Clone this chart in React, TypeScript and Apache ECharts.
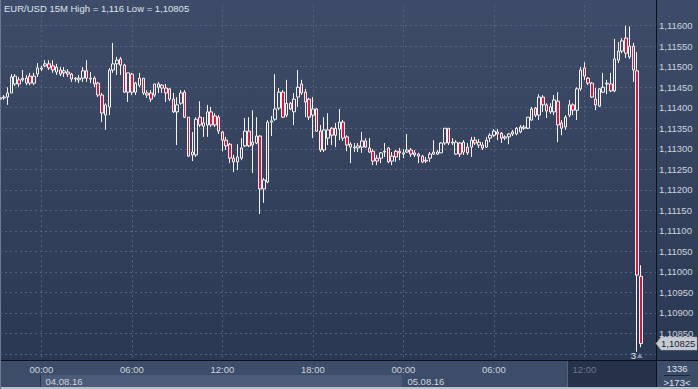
import React, { useEffect, useRef } from "react";
import * as echarts from "echarts";

// ---- data (EUR/USD, 15-minute candles) ----
const dayLabels = ["03.08.16", "04.08.16", "05.08.16"];
const firstSlot = { day: 0, minutes: 21 * 60 + 15 };
const slotCount = 175;
const categories: string[] = (() => {
  const out: string[] = [];
  let d = firstSlot.day;
  let m = firstSlot.minutes;
  for (let i = 0; i < slotCount; i++) {
    const hh = String(Math.floor(m / 60)).padStart(2, "0");
    const mm = String(m % 60).padStart(2, "0");
    out.push(dayLabels[d] + " " + hh + ":" + mm);
    m += 15;
    if (m >= 1440) { m -= 1440; d += 1; }
  }
  return out;
})();

const timeTickLabels = ["04.08.16 00:00", "04.08.16 06:00", "04.08.16 12:00", "04.08.16 18:00", "05.08.16 00:00", "05.08.16 06:00", "05.08.16 12:00"];
const dimTickLabel = "05.08.16 12:00";
const dateBandStarts = ["04.08.16 00:00", "05.08.16 00:00"];

const opens = [1.11421,1.11424,1.11426,1.11436,1.11458,1.11468,1.11468,1.11460,1.11477,1.11460,1.11482,1.11494,1.11502,1.11507,1.11502,1.11487,1.11492,1.11485,1.11487,1.11482,1.11470,1.11468,1.11472,1.11490,1.11470,1.11472,1.11460,1.11431,1.11382,1.11402,1.11492,1.11507,1.11519,1.11504,1.11438,1.11482,1.11438,1.11455,1.11472,1.11436,1.11436,1.11431,1.11450,1.11455,1.11448,1.11446,1.11421,1.11390,1.11411,1.11438,1.11377,1.11285,1.11285,1.11377,1.11355,1.11358,1.11390,1.11380,1.11377,1.11341,1.11321,1.11311,1.11277,1.11268,1.11277,1.11307,1.11343,1.11309,1.11314,1.11331,1.11202,1.11219,1.11365,1.11372,1.11399,1.11438,1.11382,1.11411,1.11390,1.11426,1.11458,1.11438,1.11421,1.11382,1.11397,1.11343,1.11297,1.11326,1.11350,1.11333,1.11348,1.11365,1.11329,1.11304,1.11302,1.11302,1.11304,1.11319,1.11302,1.11294,1.11277,1.11277,1.11292,1.11302,1.11270,1.11294,1.11294,1.11287,1.11292,1.11297,1.11290,1.11287,1.11282,1.11270,1.11277,1.11287,1.11287,1.11290,1.11314,1.11350,1.11314,1.11287,1.11314,1.11292,1.11304,1.11304,1.11321,1.11309,1.11309,1.11304,1.11326,1.11333,1.11341,1.11338,1.11326,1.11329,1.11336,1.11336,1.11341,1.11350,1.11350,1.11370,1.11399,1.11382,1.11426,1.11407,1.11390,1.11390,1.11416,1.11363,1.11353,1.11382,1.11407,1.11394,1.11446,1.11497,1.11472,1.11460,1.11421,1.11404,1.11438,1.11458,1.11458,1.11441,1.11516,1.11538,1.11570,1.11524,1.11550,1.11490,1.10989];
const closes = [1.11424,1.11426,1.11436,1.11475,1.11477,1.11458,1.11472,1.11472,1.11460,1.11477,1.11497,1.11497,1.11507,1.11497,1.11492,1.11499,1.11482,1.11490,1.11482,1.11470,1.11472,1.11472,1.11490,1.11472,1.11472,1.11458,1.11431,1.11387,1.11407,1.11492,1.11507,1.11516,1.11504,1.11438,1.11485,1.11438,1.11460,1.11472,1.11436,1.11431,1.11421,1.11458,1.11458,1.11448,1.11436,1.11421,1.11390,1.11407,1.11436,1.11377,1.11282,1.11292,1.11372,1.11358,1.11363,1.11390,1.11358,1.11358,1.11343,1.11321,1.11307,1.11277,1.11268,1.11280,1.11302,1.11343,1.11307,1.11316,1.11331,1.11202,1.11224,1.11365,1.11368,1.11397,1.11438,1.11377,1.11411,1.11397,1.11421,1.11450,1.11436,1.11414,1.11377,1.11397,1.11343,1.11297,1.11346,1.11346,1.11333,1.11350,1.11365,1.11326,1.11309,1.11311,1.11304,1.11307,1.11319,1.11304,1.11292,1.11270,1.11270,1.11290,1.11294,1.11268,1.11282,1.11280,1.11290,1.11290,1.11297,1.11287,1.11285,1.11282,1.11268,1.11272,1.11287,1.11292,1.11292,1.11314,1.11350,1.11314,1.11316,1.11316,1.11287,1.11316,1.11290,1.11321,1.11314,1.11316,1.11302,1.11321,1.11333,1.11343,1.11336,1.11326,1.11329,1.11336,1.11341,1.11350,1.11353,1.11353,1.11377,1.11397,1.11382,1.11426,1.11407,1.11392,1.11402,1.11419,1.11358,1.11350,1.11377,1.11407,1.11394,1.11446,1.11492,1.11477,1.11460,1.11426,1.11407,1.11446,1.11450,1.11460,1.11441,1.11519,1.11538,1.11563,1.11533,1.11550,1.11492,1.10992,1.10825];
const highs = [1.11426,1.11431,1.11450,1.11482,1.11482,1.11475,1.11492,1.11480,1.11485,1.11485,1.11509,1.11502,1.11516,1.11516,1.11516,1.11507,1.11499,1.11499,1.11494,1.11485,1.11475,1.11480,1.11499,1.11516,1.11487,1.11477,1.11463,1.11436,1.11411,1.11497,1.11558,1.11524,1.11524,1.11507,1.11485,1.11485,1.11463,1.11485,1.11472,1.11443,1.11443,1.11458,1.11463,1.11458,1.11458,1.11448,1.11436,1.11426,1.11443,1.11443,1.11377,1.11341,1.11377,1.11416,1.11377,1.11407,1.11402,1.11387,1.11382,1.11343,1.11329,1.11314,1.11285,1.11311,1.11326,1.11375,1.11377,1.11394,1.11377,1.11333,1.11229,1.11370,1.11380,1.11482,1.11448,1.11443,1.11468,1.11414,1.11436,1.11492,1.11468,1.11446,1.11424,1.11426,1.11399,1.11358,1.11377,1.11387,1.11353,1.11363,1.11397,1.11370,1.11333,1.11316,1.11314,1.11314,1.11341,1.11326,1.11326,1.11299,1.11285,1.11292,1.11314,1.11304,1.11292,1.11297,1.11302,1.11299,1.11336,1.11302,1.11297,1.11290,1.11285,1.11280,1.11292,1.11321,1.11297,1.11316,1.11350,1.11350,1.11326,1.11321,1.11316,1.11321,1.11314,1.11329,1.11329,1.11324,1.11316,1.11329,1.11338,1.11348,1.11348,1.11341,1.11333,1.11338,1.11346,1.11353,1.11358,1.11358,1.11377,1.11402,1.11402,1.11433,1.11431,1.11411,1.11411,1.11431,1.11438,1.11370,1.11382,1.11419,1.11411,1.11450,1.11499,1.11511,1.11475,1.11463,1.11448,1.11448,1.11485,1.11468,1.11485,1.11568,1.11560,1.11570,1.11600,1.11598,1.11558,1.11536,1.11016];
const lows = [1.11419,1.11419,1.11407,1.11436,1.11453,1.11450,1.11463,1.11455,1.11455,1.11455,1.11475,1.11490,1.11499,1.11492,1.11485,1.11480,1.11477,1.11475,1.11475,1.11463,1.11463,1.11460,1.11463,1.11463,1.11460,1.11450,1.11426,1.11365,1.11346,1.11382,1.11485,1.11480,1.11480,1.11436,1.11414,1.11431,1.11431,1.11450,1.11431,1.11424,1.11414,1.11426,1.11436,1.11436,1.11414,1.11416,1.11387,1.11309,1.11407,1.11375,1.11280,1.11270,1.11280,1.11353,1.11329,1.11329,1.11353,1.11353,1.11336,1.11294,1.11297,1.11265,1.11243,1.11248,1.11272,1.11304,1.11304,1.11241,1.11311,1.11141,1.11168,1.11216,1.11331,1.11368,1.11394,1.11375,1.11377,1.11394,1.11358,1.11402,1.11431,1.11377,1.11370,1.11326,1.11341,1.11292,1.11292,1.11309,1.11309,1.11304,1.11321,1.11319,1.11294,1.11265,1.11292,1.11292,1.11290,1.11302,1.11290,1.11260,1.11260,1.11265,1.11280,1.11265,1.11260,1.11268,1.11272,1.11277,1.11290,1.11280,1.11280,1.11265,1.11265,1.11265,1.11268,1.11285,1.11285,1.11290,1.11309,1.11309,1.11309,1.11285,1.11280,1.11285,1.11285,1.11280,1.11309,1.11302,1.11297,1.11302,1.11316,1.11329,1.11321,1.11314,1.11321,1.11311,1.11331,1.11333,1.11338,1.11346,1.11348,1.11368,1.11377,1.11370,1.11390,1.11375,1.11385,1.11382,1.11316,1.11333,1.11346,1.11377,1.11382,1.11370,1.11441,1.11468,1.11455,1.11424,1.11394,1.11402,1.11436,1.11433,1.11438,1.11438,1.11509,1.11533,1.11521,1.11519,1.11463,1.10805,1.10816];

const titleText = "EUR/USD 15M High = 1,116 Low = 1,10805";
const barCountText = "1336";
const visibleBarsText = ">173<";
const markerText = "3";

const priceMin = 1.10785;
const priceMax = 1.1165;
const priceStep = 0.0005;
const labelFloor = 1.1084;
const labelCeil = 1.1162;

const FONT = '"Liberation Sans", Arial, sans-serif';
const fmtPrice = (v: number) => v.toFixed(5).replace(".", ",");

export default function App() {
  const ref = useRef<HTMLDivElement>(null);
  useEffect(() => {
    if (!ref.current) return;
    const chart = echarts.init(ref.current, null, { renderer: "svg", width: 698, height: 389 });
    const data = opens.map((o, i) => [o, closes[i], lows[i], highs[i]]);
    chart.setOption({
      animation: false,
      backgroundColor: "transparent",
      grid: { left: 0, top: 5.2, right: 42, bottom: 29, containLabel: false },
      xAxis: {
        type: "category",
        data: categories,
        boundaryGap: false,
        axisLine: { show: false },
        axisTick: { show: false },
        axisLabel: {
          interval: (_i: number, v: string) => timeTickLabels.includes(v),
          formatter: (v: string) => v.split(" ")[1],
          color: (v: string) => (v === dimTickLabel ? "#6b778d" : "#cdd4de"),
          fontSize: 9.5,
          fontFamily: FONT,
          margin: 4,
        },
        splitLine: {
          show: true,
          interval: (_i: number, v: string) => timeTickLabels.includes(v),
          lineStyle: { color: "#56647f", type: [2, 3], width: 1 },
        },
      },
      yAxis: {
        type: "value",
        position: "right",
        min: priceMin,
        max: priceMax,
        splitNumber: 18,
        minInterval: priceStep,
        maxInterval: priceStep,
        axisLine: { show: false },
        axisTick: { show: false },
        axisLabel: {
          showMinLabel: false,
          showMaxLabel: false,
          formatter: (v: number) => (v < labelFloor || v > labelCeil ? "" : fmtPrice(v)),
          color: "#cdd4de",
          fontSize: 9.5,
          fontFamily: FONT,
          margin: 3,
        },
        splitLine: {
          show: true,
          showMinLine: false,
          showMaxLine: false,
          lineStyle: { color: "#56647f", type: [2, 3], width: 1 },
        },
      },
      series: [
        {
          type: "candlestick",
          data,
          barWidth: 3,
          clip: false,
          itemStyle: {
            color: "rgba(0,0,0,0)",
            color0: "#e3123d",
            borderColor: "#f6f4f2",
            borderColor0: "#f6f4f2",
            borderWidth: 1,
          },
        },
      ],
    });

    const xOf = (cat: string) => chart.convertToPixel({ xAxisIndex: 0 }, cat) as number;
    const lastClose = closes[closes.length - 1];
    const yLast = chart.convertToPixel({ yAxisIndex: 0 }, lastClose) as number;
    const xLastBar = xOf(categories[closes.length - 2]);

    chart.setOption({
      graphic: [
        { type: "text", x: 4, y: 8, style: { text: titleText, fill: "#dfe4ec", font: "9.5px " + FONT, verticalAlign: "middle" } },
        ...dateBandStarts.map((c) => ({
          type: "text",
          x: xOf(c) + 4,
          y: 381,
          style: { text: c.split(" ")[0], fill: "#cdd4de", font: "9.5px " + FONT, verticalAlign: "middle" },
        })),
        { type: "text", x: 677, y: 368, style: { text: barCountText, fill: "#dfe4ec", font: "9.5px " + FONT, align: "center", verticalAlign: "middle" } },
        { type: "line", shape: { x1: 664, y1: 375.5, x2: 690, y2: 375.5 }, style: { stroke: "#1d2433", lineWidth: 1 } },
        { type: "text", x: 677, y: 382, style: { text: visibleBarsText, fill: "#dfe4ec", font: "9.5px " + FONT, align: "center", verticalAlign: "middle" } },
        {
          type: "polygon",
          shape: { points: [[656, yLast], [661, yLast - 6.5], [697, yLast - 6.5], [697, yLast + 6.5], [661, yLast + 6.5]] },
          style: { fill: "#c6cbd3", stroke: "#9aa3b0", lineWidth: 0.5 },
        },
        { type: "text", x: 661, y: yLast, style: { text: fmtPrice(lastClose), fill: "#1c2230", font: "9.5px " + FONT, verticalAlign: "middle" } },
        { type: "text", x: xLastBar - 1, y: 355, style: { text: markerText, fill: "#e6eaf0", font: "9.5px " + FONT, align: "right", verticalAlign: "middle" } },
        {
          type: "polygon",
          shape: { points: [[xLastBar - 0.5, 358], [xLastBar + 2.5, 353], [xLastBar + 5.5, 358]] },
          style: { fill: "#7f8a9c" },
        },
      ],
    });
    return () => chart.dispose();
  }, []);

  const box = (s: React.CSSProperties) => <div style={{ position: "absolute", ...s }} />;
  return (
    <div style={{ position: "fixed", left: 0, top: 0, width: 698, height: 389, overflow: "hidden", background: "linear-gradient(#3e4c69, #2b3853 360px)" }}>
      {box({ left: 0, top: 361, width: 698, height: 26, background: "#3d4c68" })}
      {box({ left: 41, top: 375, width: 361, height: 12, background: "#4c5b77" })}
      {box({ left: 40, top: 375, width: 1, height: 12, background: "#2a3650" })}
      {box({ left: 568, top: 361, width: 88, height: 26, background: "#26324a" })}
      {box({ left: 567, top: 361, width: 1, height: 26, background: "#55627a" })}
      {box({ left: 0, top: 360, width: 698, height: 1, background: "#0c1018" })}
      {box({ left: 656, top: 0, width: 1, height: 389, background: "#0c1018" })}
      {box({ left: 0, top: 387, width: 698, height: 2, background: "#b7c1cf" })}
      {box({ left: 0, top: 0, width: 1, height: 389, background: "#6d7a92" })}
      <div ref={ref} style={{ position: "absolute", left: 0, top: 0, width: 698, height: 389 }} />
    </div>
  );
}
